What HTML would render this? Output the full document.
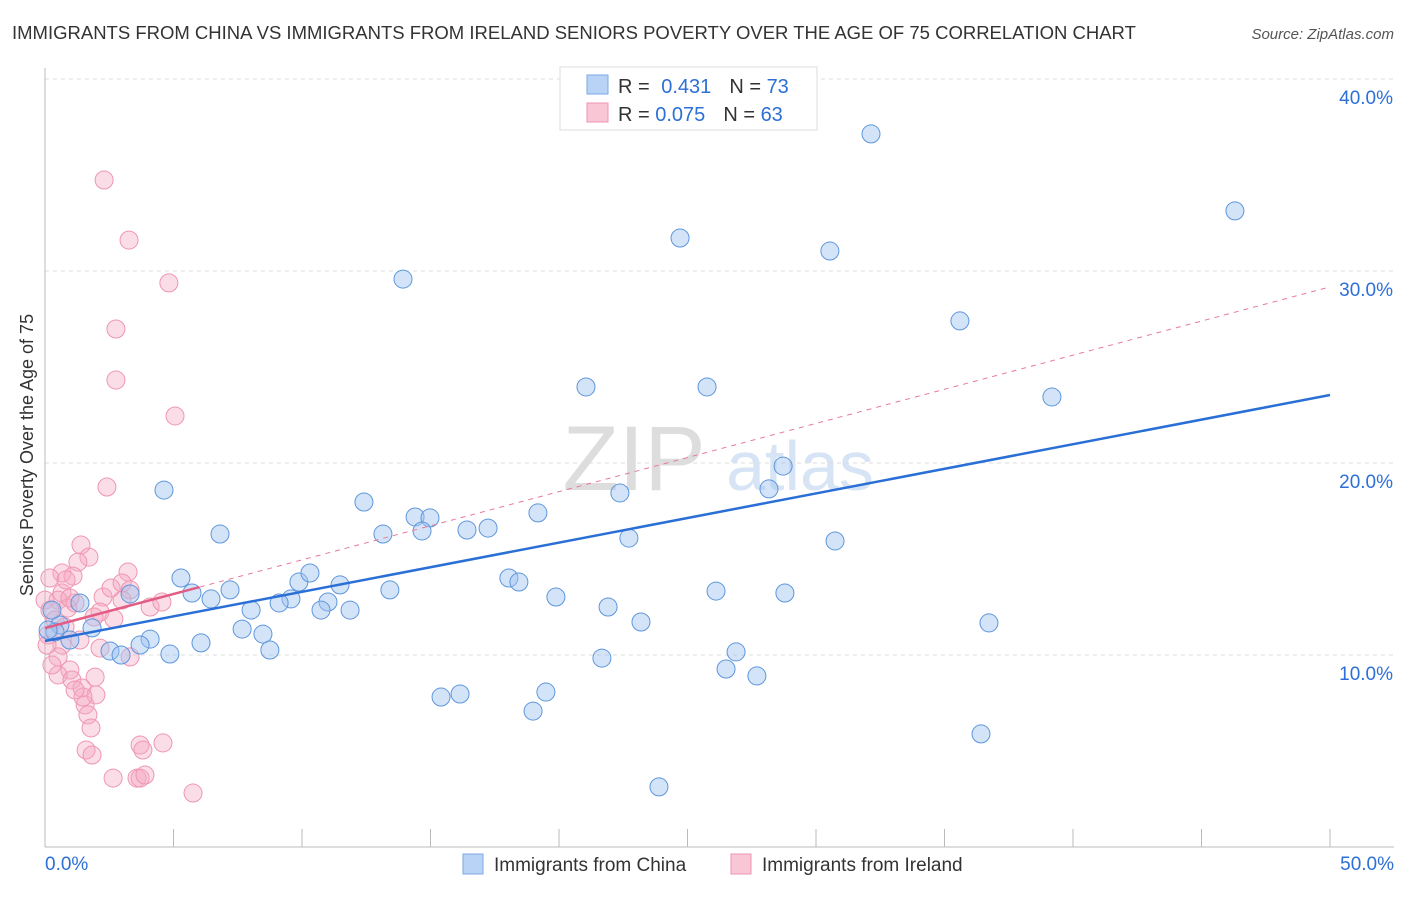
<!DOCTYPE html>
<html><head><meta charset="utf-8"><style>
body{margin:0;background:#fff;font-family:"Liberation Sans",sans-serif;}
svg text{font-family:"Liberation Sans",sans-serif;}
</style></head><body>
<svg id="chart" width="1406" height="892" xmlns="http://www.w3.org/2000/svg">
<text x="12" y="39" font-size="18.5" fill="#333">IMMIGRANTS FROM CHINA VS IMMIGRANTS FROM IRELAND SENIORS POVERTY OVER THE AGE OF 75 CORRELATION CHART</text>
<text x="1394" y="39" font-size="15" fill="#555" font-style="italic" text-anchor="end">Source: ZipAtlas.com</text>
<text x="634" y="490" font-size="92" fill="#ddd" font-family="Liberation Serif" text-anchor="middle">ZIP</text>
<text x="800" y="490" font-size="70" fill="#d6e4f5" text-anchor="middle">atlas</text>
<text transform="translate(33,455) rotate(-90)" font-size="18" fill="#333" text-anchor="middle">Seniors Poverty Over the Age of 75</text>
<g id="grid"></g><g id="axes"></g><g id="pts"></g><g id="lines"></g>
<g>
<rect x="560" y="67" width="257" height="63" fill="#fff" stroke="#ddd"/>
<rect x="587" y="75" width="21" height="19" fill="#b8d3f5" stroke="#7aa9e6"/>
<rect x="587" y="103" width="21" height="19" fill="#f9c6d5" stroke="#ee95b0"/>
<text x="618" y="93" font-size="20" fill="#333">R = <tspan fill="#2c6fd6" dx="6">0.431</tspan><tspan dx="18" fill="#333">N = </tspan><tspan fill="#2c6fd6">73</tspan></text>
<text x="618" y="121" font-size="20" fill="#333">R = <tspan fill="#2c6fd6">0.075</tspan><tspan dx="18" fill="#333">N = </tspan><tspan fill="#2c6fd6">63</tspan></text>
</g>
<g>
<rect x="463" y="854" width="20" height="20" fill="#b8d3f5" stroke="#7aa9e6"/>
<text x="494" y="871" font-size="19" fill="#333">Immigrants from China</text>
<rect x="731" y="854" width="20" height="20" fill="#f9c6d5" stroke="#ee95b0"/>
<text x="762" y="871" font-size="19" fill="#333">Immigrants from Ireland</text>
</g>
</svg>
<script>
const xTicks=[0,5,10,15,20,25,30,35,40,45,50];
const yTicks=[10,20,30,40];
const chinaPx=[[871,134],[1235,211],[680,238],[830,251],[403,279],[960,321],[586,387],[707,387],[1052,397],[164,490],[783,466],[769,489],[620,493],[364,502],[538,513],[220,534],[415,517],[430,518],[383,534],[422,531],[467,530],[488,528],[629,538],[835,541],[181,578],[299,582],[310,573],[340,585],[509,578],[519,582],[390,590],[230,590],[130,594],[192,593],[211,599],[291,599],[279,603],[328,602],[321,610],[350,610],[556,597],[608,607],[716,591],[785,593],[251,610],[641,622],[989,623],[242,629],[263,634],[150,639],[92,628],[110,651],[121,655],[140,645],[170,654],[201,643],[270,650],[60,625],[55,632],[70,640],[602,658],[736,652],[726,669],[757,676],[441,697],[460,694],[546,692],[533,711],[981,734],[659,787],[52,610],[80,603],[48,630]];
const irelandPx=[[104,180],[129,240],[169,283],[116,329],[116,380],[175,416],[107,487],[81,545],[89,557],[78,562],[62,573],[73,576],[50,578],[62,593],[58,600],[45,600],[50,610],[68,608],[75,603],[103,597],[111,588],[128,572],[122,583],[100,612],[114,619],[130,590],[150,607],[162,602],[55,620],[65,627],[80,640],[48,635],[62,645],[58,657],[70,670],[58,675],[72,680],[95,677],[82,688],[85,705],[88,715],[91,728],[96,695],[83,697],[86,750],[92,755],[140,745],[143,750],[163,743],[113,778],[137,778],[140,778],[145,775],[193,793],[100,648],[130,657],[94,617],[70,598],[47,645],[52,665],[75,690],[66,580],[122,600]];
const chinaX=chinaPx.map(p=>+((p[0]-45)/25.7).toFixed(2));
const chinaY=chinaPx.map(p=>+((847-p[1])/19.2).toFixed(2));
const irelandX=irelandPx.map(p=>+((p[0]-45)/25.7).toFixed(2));
const irelandY=irelandPx.map(p=>+((847-p[1])/19.2).toFixed(2));
const chinaTrend=[10.73,23.54];
const irelandTrend=[11.4,29.17];
const irelandSolidEnd=6;
const X=v=>45+v*25.7, Y=v=>847-v*19.2;
const NS='http://www.w3.org/2000/svg';
function mk(tag,attrs,parent){const e=document.createElementNS(NS,tag);for(const k in attrs)e.setAttribute(k,attrs[k]);document.getElementById(parent).appendChild(e);return e;}
yTicks.forEach(t=>{
 const l=mk('line',{x1:45,x2:1394,y1:Y(t),y2:Y(t),stroke:'#ddd','stroke-dasharray':'4,4'},'grid');
 
 
 const tx=mk('text',{x:1393,y:Y(t)+25,'font-size':19,fill:'#2c6fd6','text-anchor':'end'},'grid');
 tx.textContent=t.toFixed(1)+'%';
 
 
});
const topLine=mk('line',{x1:45,x2:1394,y1:79,y2:79,stroke:'#ddd','stroke-dasharray':'4,4'},'grid');


const ya=mk('line',{x1:45,x2:45,y1:68,y2:847,stroke:'#bbb'},'axes');


const xa=mk('line',{x1:45,x2:1394,y1:847,y2:847,stroke:'#bbb'},'axes');


xTicks.forEach(t=>{
 const l=mk('line',{x1:X(t),x2:X(t),y1:829,y2:847,stroke:'#bbb'},'axes');
 
 
});
[[0,'start',45],[50,'end',1394]].forEach(a=>{
 const tx=mk('text',{x:a[2],y:870,'font-size':19,fill:'#2c6fd6','text-anchor':a[1]},'axes');
 tx.textContent=a[0].toFixed(1)+'%';
 
 
});
irelandX.forEach((x,i)=>{
 const c=mk('circle',{cx:X(x),cy:Y(irelandY[i]),r:9,fill:'rgba(246,170,195,0.4)',stroke:'#ef96b2','stroke-width':1},'pts');
 
 
});
chinaX.forEach((x,i)=>{
 const c=mk('circle',{cx:X(x),cy:Y(chinaY[i]),r:9,fill:'rgba(160,196,240,0.45)',stroke:'#5e96dd','stroke-width':1},'pts');
 
 
});
const ir=v=>irelandTrend[0]+(irelandTrend[1]-irelandTrend[0])*v/50;
const d1=mk('line',{x1:X(0),y1:Y(ir(0)),x2:X(50),y2:Y(ir(50)),stroke:'#e87a9c','stroke-width':1,'stroke-dasharray':'5,5'},'lines');


const s1=mk('line',{x1:X(0),y1:Y(ir(0)),x2:X(irelandSolidEnd),y2:Y(ir(irelandSolidEnd)),stroke:'#e25d86','stroke-width':2.5},'lines');


const b1=mk('line',{x1:X(0),y1:Y(chinaTrend[0]),x2:X(50),y2:Y(chinaTrend[1]),stroke:'#2a6fd6','stroke-width':2.5},'lines');


</script>
</body></html>
